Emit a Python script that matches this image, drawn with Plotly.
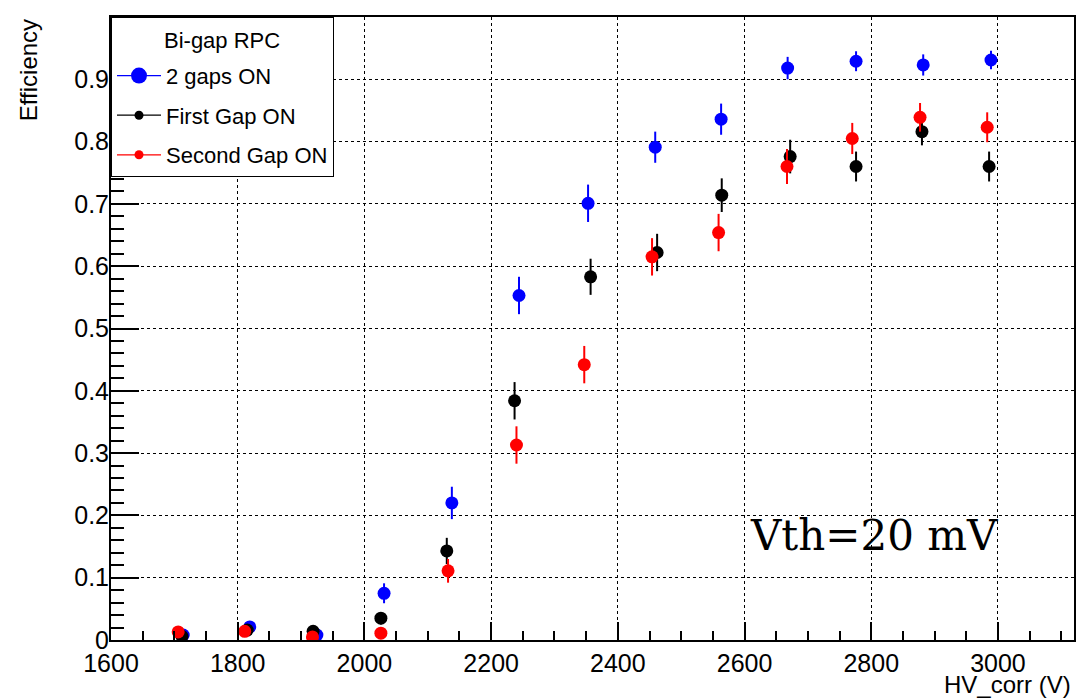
import plotly.graph_objects as go

# ---- data ----
hv_both = [1714, 1819, 1925, 2031, 2138, 2244, 2353, 2459, 2563, 2668, 2776, 2882, 2989]
eff_both = [0.008, 0.021, 0.008, 0.075, 0.220, 0.553, 0.701, 0.791, 0.836, 0.918, 0.929, 0.923, 0.931]
err_both = [0.004, 0.006, 0.004, 0.016, 0.026, 0.030, 0.030, 0.025, 0.025, 0.018, 0.016, 0.017, 0.015]

hv_first = [1712, 1815, 1919, 2026, 2130, 2237, 2357, 2462, 2564, 2672, 2776, 2880, 2986]
eff_first = [0.006, 0.016, 0.014, 0.035, 0.143, 0.384, 0.583, 0.622, 0.714, 0.776, 0.760, 0.816, 0.760]
err_first = [0.004, 0.005, 0.005, 0.010, 0.021, 0.030, 0.029, 0.030, 0.027, 0.027, 0.024, 0.022, 0.024]

hv_second = [1706, 1811, 1918, 2026, 2132, 2240, 2347, 2454, 2559, 2667, 2770, 2877, 2983]
eff_second = [0.013, 0.014, 0.005, 0.011, 0.111, 0.313, 0.442, 0.615, 0.654, 0.760, 0.805, 0.839, 0.823]
err_second = [0.004, 0.005, 0.004, 0.006, 0.019, 0.030, 0.030, 0.030, 0.030, 0.028, 0.025, 0.023, 0.024]

series_names = ["2 gaps ON", "First Gap ON", "Second Gap ON"]
series_colors = ["#0000ff", "#000000", "#ff0000"]
legend_title = "Bi-gap RPC"
x_title = "HV_corr (V)"
y_title = "Efficiency"
note_text = "Vth=20 mV"

FONT = "Liberation Sans, Arial, Helvetica, sans-serif"

fig = go.Figure()

data = [(hv_both, eff_both, err_both), (hv_first, eff_first, err_first), (hv_second, eff_second, err_second)]
for (xs, ys, es), name, col in zip(data, series_names, series_colors):
    fig.add_trace(go.Scatter(
        x=xs, y=ys, mode="markers", name=name, showlegend=False,
        marker=dict(color=col, size=13, symbol="circle", line=dict(width=0)),
        error_y=dict(type="data", array=es, visible=True, color=col, thickness=2, width=0),
    ))

# legend entries (line + marker, like ROOT "lp"); the first group's blank title
# reserves the room for the legend header (drawn as a centred annotation)
legend_sizes = [20, 9, 9]
for i, (name, col, sz) in enumerate(zip(series_names, series_colors, legend_sizes)):
    kw = {}
    if i == 0:
        kw["legendgrouptitle"] = dict(text=" ", font=dict(family=FONT, size=26))
    fig.add_trace(go.Scatter(
        x=[None], y=[None], mode="lines+markers", name=name, legendgroup=f"g{i}",
        line=dict(color=col, width=1.2),
        marker=dict(color=col, size=sz, symbol="circle"),
        **kw,
    ))

# The page body has an 8px margin: shrink the figure so that it fills the 1084x700 window.
fig.update_layout(
    width=1076, height=692,
    margin=dict(l=103, r=10, t=9, b=60, autoexpand=False),
    paper_bgcolor="white", plot_bgcolor="white",
    font=dict(family=FONT, color="black", size=24),
    showlegend=True,
    legend=dict(
        x=0, y=1, xanchor="left", yanchor="top",
        bgcolor="white", bordercolor="black", borderwidth=1,
        font=dict(family=FONT, size=22, color="black"),
        tracegroupgap=8, itemwidth=44,
    ),
    annotations=[
        dict(text=legend_title, xref="paper", yref="paper", x=0.1153, y=0.963, xanchor="center", yanchor="middle",
             showarrow=False, font=dict(family=FONT, size=22)),
        dict(text=y_title, xref="paper", yref="paper", x=-0.086, y=1.0, xanchor="center", yanchor="top",
             textangle=-90, showarrow=False, font=dict(family=FONT, size=24)),
        dict(text=x_title, xref="paper", yref="paper", x=0.999, y=-0.071, xanchor="right", yanchor="middle",
             showarrow=False, font=dict(family=FONT, size=24)),
        dict(text=note_text, xref="paper", yref="paper", x=0.661, y=0.167, xanchor="left", yanchor="middle",
             showarrow=False, font=dict(family="DejaVu Serif, serif", size=42, color="black")),
    ],
)

fig.update_xaxes(
    range=[1600, 3120], tick0=1600, dtick=200, automargin=False,
    showline=True, linecolor="black", linewidth=2, mirror=True,
    ticks="inside", ticklen=18, tickwidth=1.5, tickcolor="black",
    showgrid=True, gridcolor="black", griddash="dot", gridwidth=1,
    zeroline=False,
    tickfont=dict(family=FONT, size=25),
    minor=dict(ticks="inside", ticklen=9, dtick=50, tick0=1600, tickcolor="black", tickwidth=1.5, showgrid=False),
)
fig.update_yaxes(
    range=[0, 1.0], tick0=0, dtick=0.1, automargin=False,
    showline=True, linecolor="black", linewidth=2, mirror=True,
    ticks="inside", ticklen=28, tickwidth=1.5, tickcolor="black",
    showgrid=True, gridcolor="black", griddash="dot", gridwidth=1,
    zeroline=False, ticklabelstandoff=-5,
    tickfont=dict(family=FONT, size=25),
    minor=dict(ticks="inside", ticklen=13, dtick=0.02, tick0=0, tickcolor="black", tickwidth=1.5, showgrid=False),
)

fig.write_html("out.html")
